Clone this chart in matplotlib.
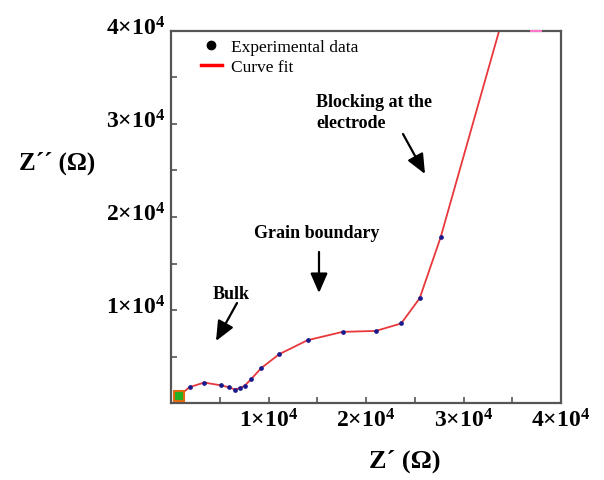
import matplotlib
matplotlib.use("Agg")
import matplotlib.pyplot as plt
import matplotlib.transforms as mtransforms
from matplotlib.lines import Line2D

# Nyquist data (ohm)
z_real = [800, 1900, 3400, 5100, 5900, 6550, 7050, 7550, 8250, 9250,
          11100, 14000, 17600, 21000, 23600, 25500, 27650]
z_imag = [750, 1700, 2200, 1900, 1700, 1450, 1600, 1850, 2600, 3750,
          5250, 6750, 7650, 7750, 8550, 11250, 17800]

# fitted curve, same points carried on to the top of the frame
fit_real = z_real + [33650]
fit_imag = z_imag + [40000]

x_ticks = [5000 * i for i in range(1, 9)]
y_ticks = [5000 * i for i in range(1, 9)]
major_labels = {10000: "1×10$^{4}$", 20000: "2×10$^{4}$", 30000: "3×10$^{4}$", 40000: "4×10$^{4}$"}

W, H = 604, 481
plt.rcParams['font.family'] = ['Liberation Serif', 'DejaVu Serif']
plt.rcParams['mathtext.fontset'] = 'custom'
plt.rcParams['mathtext.rm'] = 'Liberation Serif:bold'
plt.rcParams['mathtext.it'] = 'Liberation Serif:bold'
plt.rcParams['mathtext.bf'] = 'Liberation Serif:bold'

fig = plt.figure(figsize=(W / 100, H / 100), dpi=100)


def fx(px):
    return px / W


def fy(py):
    return 1 - py / H


ax = fig.add_axes([fx(171), fy(404), fx(561) - fx(171), fy(32) - fy(404)])

ax.plot(fit_real, fit_imag, color='#e8383c', lw=1.3, zorder=2)
ax.plot(z_real, z_imag, 'o', color='#1a1a8c', ms=2.4, zorder=3)
ax.plot(z_real[:1], z_imag[:1], 's', color='#22b022', mec='#e06a10', mew=1.5, ms=7, zorder=4)
ax.plot([37450], [40000], '_', color='#ff77cc', ms=8, mew=1.5, clip_on=False, zorder=4)

ax.set_xlim(0, 40000)
ax.set_ylim(0, 40000)

ax.set_xticks(x_ticks)
ax.set_xticklabels([major_labels.get(t, "") for t in x_ticks])
ax.set_yticks(y_ticks)
ax.set_yticklabels([major_labels.get(t, "") for t in y_ticks])

ax.tick_params(direction='in', length=4, width=1.2, color='#555555',
               labelsize=17, top=False, right=False)
ax.tick_params(axis='x', pad=4)
ax.tick_params(axis='y', pad=4)
for lab in ax.get_xticklabels() + ax.get_yticklabels():
    lab.set_fontweight('bold')
for lab in ax.get_xticklabels():
    lab.set_transform(lab.get_transform() + mtransforms.ScaledTranslation(0.0, 0, fig.dpi_scale_trans))
for lab in ax.get_yticklabels():
    lab.set_transform(lab.get_transform() + mtransforms.ScaledTranslation(0, 0.06, fig.dpi_scale_trans))

for s in ax.spines.values():
    s.set_color('#555555')
    s.set_linewidth(1.6)

fig.text(fx(57), fy(163), "Z´´ (Ω)", fontsize=18, fontweight='bold', ha='center', va='center')
fig.text(fx(405), fy(461), "Z´ (Ω)", fontsize=19, fontweight='bold', ha='center', va='center')

handles = [Line2D([], [], ls='none', marker='o', color='black', ms=6),
           Line2D([], [], color='red', lw=2.5)]
fig.legend(handles, ["Experimental data", "Curve fit"], loc='upper left',
           bbox_to_anchor=(fx(201), fy(40)), bbox_transform=fig.transFigure,
           frameon=False, fontsize=12.5, handlelength=1.2, handletextpad=0.55,
           labelspacing=0.2, borderpad=0, borderaxespad=0)

fig.text(fx(231), fy(295), "Bulk", fontsize=13, fontweight='bold', ha='center', va='center')
fig.text(fx(317), fy(234), "Grain boundary", fontsize=13, fontweight='bold', ha='center', va='center')
fig.text(fx(316), fy(113), "Blocking at the\nelectrode", fontsize=13, fontweight='bold',
         ha='left', va='center', linespacing=1.3)

arrows = [((237, 304), (216, 342)), ((319, 253), (319, 294)), ((403, 135), (425, 175))]
for (x0, y0), (x1, y1) in arrows:
    fig.add_artist(matplotlib.patches.FancyArrowPatch(
        (fx(x0), fy(y0)), (fx(x1), fy(y1)), transform=fig.transFigure,
        arrowstyle='-|>,head_width=0.35,head_length=0.8', mutation_scale=15,
        color='black', lw=1.6, shrinkA=0, shrinkB=0))

fig.savefig("out.png", dpi=100)
